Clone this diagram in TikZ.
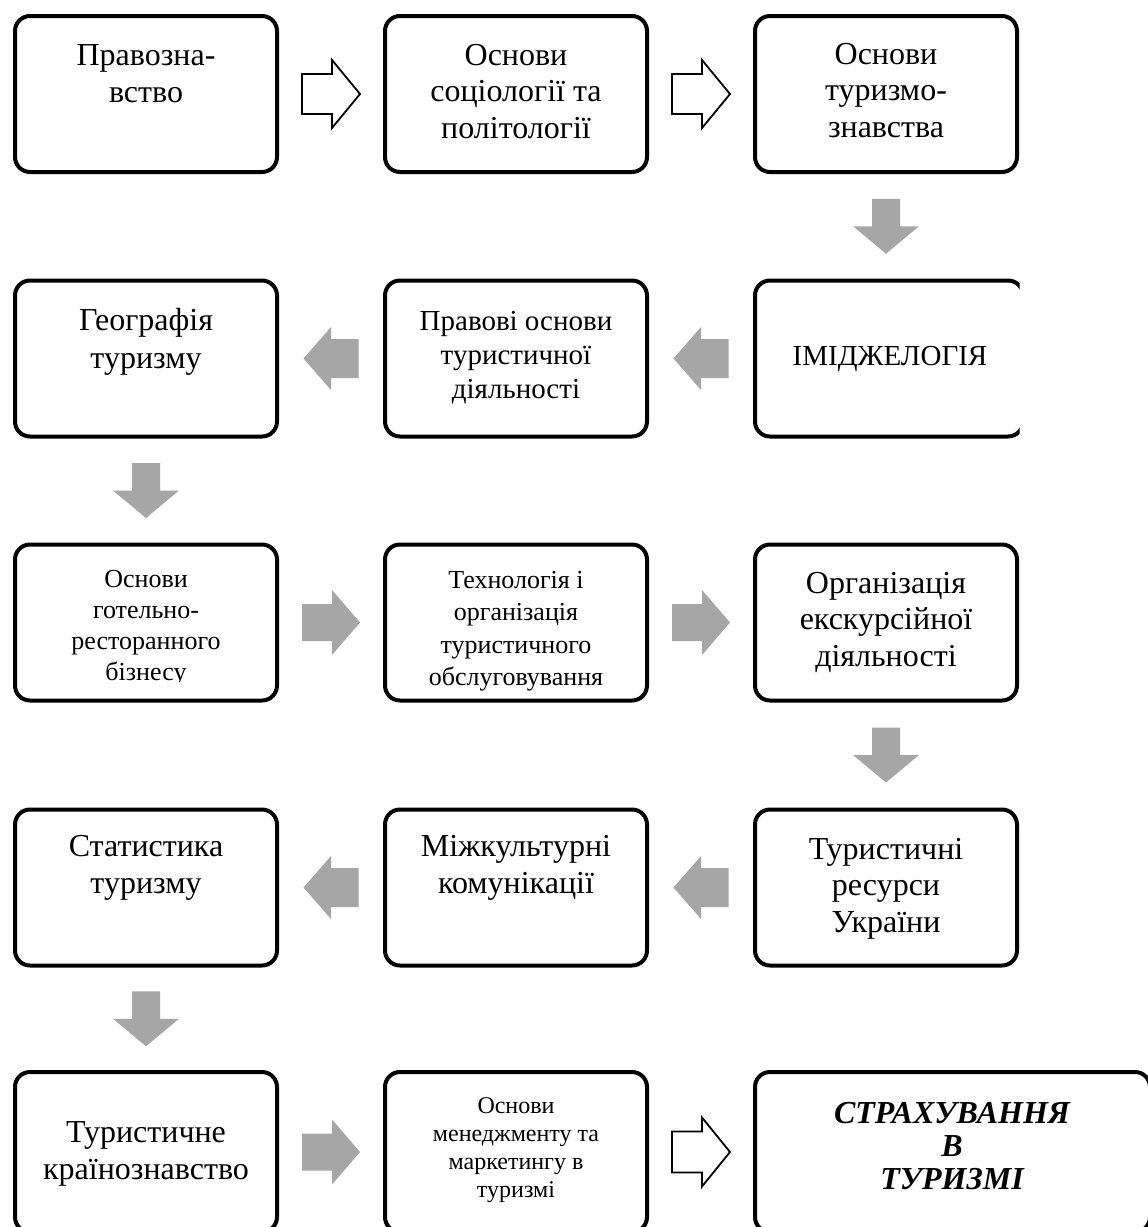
\documentclass[tikz,border=0pt]{standalone}
\usepackage{fontspec}
\setmainfont{Liberation Serif}
\usetikzlibrary{calc}
\definecolor{arrgray}{RGB}{166,166,166}
\tikzset{
  box/.style={draw=black, line width=4pt, rounded corners=15pt, minimum width=262pt, minimum height=156pt, inner sep=0pt, outer sep=0pt, fill=white},
  txt/.style={align=center, inner sep=0pt, anchor=base},
  big/.style={font=\fontsize{32}{36.5}\selectfont},
  grayarrow/.style={fill=arrgray, draw=none},
  hollowarrow/.style={draw=black, line width=1.8pt, fill=white, line join=miter}
}
\newcommand{\myArrR}[4]{\path[#1,shift={#2}] (-29,-#3) -- (1,-#3) -- (1,-#4) -- (29,0) -- (1,#4) -- (1,#3) -- (-29,#3) -- cycle;}
\newcommand{\myArrL}[2]{\path[#1,shift={#2}] (27.5,-19.5) -- (0,-19.5) -- (0,-31.5) -- (-27.5,0) -- (0,31.5) -- (0,19.5) -- (27.5,19.5) -- cycle;}
\newcommand{\myArrD}[2]{\path[#1,shift={#2}] (-14,-27.5) -- (14,-27.5) -- (14,0) -- (33,0) -- (0,27.5) -- (-33,0) -- (-14,0) -- cycle;}
\begin{document}
\begin{tikzpicture}[x=1pt,y=-1pt]
\useasboundingbox (0,0) rectangle (1148,1227);
\clip (0,0) rectangle (1148,1227);
\fill[white] (0,0) rectangle (1148,1227);

% boxes
\node[box] (b11) at (146,94) {};
\node[box] (b12) at (516,94) {};
\node[box] (b13) at (886,94) {};
\node[box] (b21) at (146,358.5) {};
\node[box] (b22) at (516,358.5) {};
\begin{scope}
  \clip (700,250) rectangle (1019.5,470);
  \node[box, minimum width=268pt] (b23) at (889,358.5) {};
\end{scope}
\node[box] (b31) at (146,622.5) {};
\node[box] (b32) at (516,622.5) {};
\node[box] (b33) at (886,622.5) {};
\node[box] (b41) at (146,887.5) {};
\node[box] (b42) at (516,887.5) {};
\node[box] (b43) at (886,887.5) {};
\node[box, minimum height=160pt] (b51) at (146,1152) {};
\node[box, minimum height=160pt] (b52) at (516,1152) {};
\node[box, minimum height=160pt, minimum width=395pt] (b53) at (952.5,1152) {};

% texts (anchor = baseline of last line)
\node[txt, big] (t11) at (146,102) {Правозна-\\вство};
\node[txt, big] (t12) at (516,138) {Основи\\соціології та\\політології};
\node[txt, big] (t13) at (886,137) {Основи\\туризмо-\\знавства};
\node[txt, font=\fontsize{32}{37.5}\selectfont] (t21) at (146,368) {Географія\\туризму};
\node[txt, font=\fontsize{29}{34}\selectfont] (t22) at (516,398) {Правові основи\\туристичної\\діяльності};
\node[txt, font=\fontsize{29}{34}\selectfont] (t23) at (890,365) {ІМІДЖЕЛОГІЯ};
\begin{scope}
  \clip (0,500) rectangle (300,681.5);
  \node[txt, font=\fontsize{26}{31}\selectfont] (t31) at (146,680) {Основи\\готельно-\\ресторанного\\бізнесу};
\end{scope}
\node[txt, font=\fontsize{26}{32.5}\selectfont] (t32) at (516,685.5) {Технологія і\\організація\\туристичного\\обслуговування};
\node[txt, big] (t33) at (886,666) {Організація\\екскурсійної\\діяльності};
\node[txt, big] (t41) at (146,893) {Статистика\\туризму};
\node[txt, big] (t42) at (516,893) {Міжкультурні\\комунікації};
\node[txt, big] (t43) at (886,932) {Туристичні\\ресурси\\України};
\node[txt, big] (t51) at (146,1179) {Туристичне\\країнознавство};
\node[txt, font=\fontsize{24}{28}\selectfont] (t52) at (516,1197) {Основи\\менеджменту та\\маркетингу в\\туризмі};
\node[txt, font=\fontsize{32}{33}\selectfont\bfseries\itshape] (t53) at (952,1189) {СТРАХУВАННЯ\\В\\ТУРИЗМІ};

% arrow positions
\coordinate (a1) at ($(b11.east)!0.5!(b12.west)$);
\coordinate (a2) at ($(b12.east)!0.5!(b13.west)$);
\coordinate (a3) at ($(b13.south)!0.5!(b23.north -| b13.south)$);
\coordinate (a4) at ($(b22.east)!0.5!(b23.west)$);
\coordinate (a5) at ($(b21.east)!0.5!(b22.west)$);
\coordinate (a6) at ($(b21.south)!0.5!(b31.north)$);
\coordinate (a7) at ($(b31.east)!0.5!(b32.west)$);
\coordinate (a8) at ($(b32.east)!0.5!(b33.west)$);
\coordinate (a9) at ($(b33.south)!0.5!(b43.north)$);
\coordinate (a10) at ($(b42.east)!0.5!(b43.west)$);
\coordinate (a11) at ($(b41.east)!0.5!(b42.west)$);
\coordinate (a12) at ($(b41.south)!0.5!(b51.north)$);
\coordinate (a13) at ($(b51.east)!0.5!(b52.west)$);
\coordinate (a14) at ($(b52.east)!0.5!(b53.west)$);

% arrows
\myArrR{hollowarrow}{(a1)}{20}{34}
\myArrR{hollowarrow}{(a2)}{20}{34}
\myArrD{grayarrow}{(a3)}
\myArrL{grayarrow}{(a4)}
\myArrL{grayarrow}{(a5)}
\myArrD{grayarrow}{(a6)}
\myArrR{grayarrow}{(a7)}{18.5}{32.5}
\myArrR{grayarrow}{(a8)}{18.5}{32.5}
\myArrD{grayarrow}{(a9)}
\myArrL{grayarrow}{(a10)}
\myArrL{grayarrow}{(a11)}
\myArrD{grayarrow}{(a12)}
\myArrR{grayarrow}{(a13)}{18.5}{32.5}
\myArrR{hollowarrow}{(a14)}{20.5}{34.5}
\end{tikzpicture}
\end{document}
